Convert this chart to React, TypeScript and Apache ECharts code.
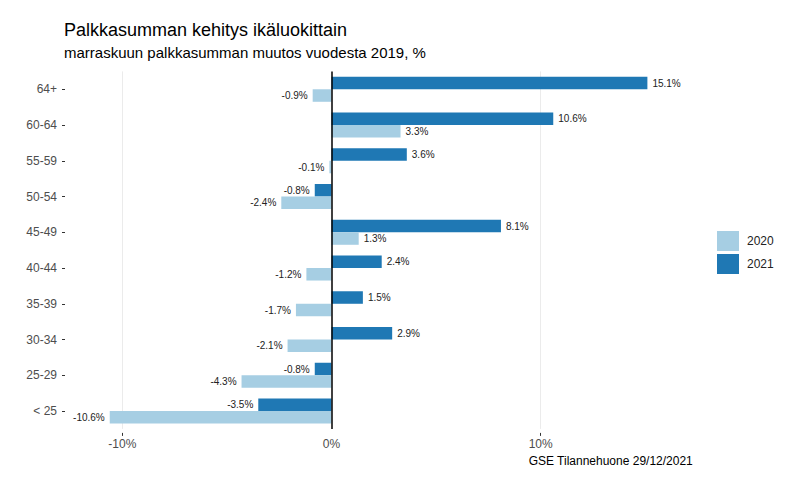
import React, { useEffect, useRef } from "react";
import * as echarts from "echarts";

const categories = ["< 25", "25-29", "30-34", "35-39", "40-44", "45-49", "50-54", "55-59", "60-64", "64+"];
const values2020 = [-10.6, -4.3, -2.1, -1.7, -1.2, 1.3, -2.4, -0.1, 3.3, -0.9];
const values2021 = [-3.5, -0.8, 2.9, 1.5, 2.4, 8.1, -0.8, 3.6, 10.6, 15.1];
const seriesNames = ["2020", "2021"];
const xLabelValues = [-10, 0, 10];
const xTickValues = [-10, 10];

const FONT = "'Liberation Sans', Arial, sans-serif";

function toItems(vals: number[]) {
  return vals.map((v) => ({ value: v, label: { position: v < 0 ? "left" : "right" } }));
}

export default function App() {
  const ref = useRef<HTMLDivElement>(null);
  useEffect(() => {
    document.body.style.margin = "0";
    if (!ref.current) return;
    const chart = echarts.init(ref.current, undefined, { renderer: "svg" });
    const labelCfg = {
      show: true,
      distance: 5,
      fontSize: 10,
      color: "#222",
      fontFamily: FONT,
      formatter: (p: any) => Number(p.value).toFixed(1) + "%",
    };
    chart.setOption({
      animation: false,
      textStyle: { fontFamily: FONT },
      title: [
        {
          text: "Palkkasumman kehitys ikäluokittain",
          left: 64,
          top: 21,
          padding: 0,
          textStyle: { fontSize: 18, fontWeight: "normal", color: "#000", fontFamily: FONT },
        },
        {
          text: "marraskuun palkkasumman muutos vuodesta 2019, %",
          left: 64,
          top: 45,
          padding: 0,
          textStyle: { fontSize: 15, fontWeight: "normal", color: "#000", fontFamily: FONT },
        },
        {
          text: "GSE Tilannehuone 29/12/2021",
          right: 107,
          top: 455,
          padding: 0,
          textStyle: { fontSize: 12, fontWeight: "normal", color: "#000", fontFamily: FONT },
        },
      ],
      legend: {
        data: seriesNames,
        orient: "vertical",
        left: 717,
        top: 231,
        padding: 0,
        itemWidth: 22,
        itemHeight: 20,
        itemGap: 3,
        icon: "rect",
        textStyle: { fontSize: 12, color: "#222", fontFamily: FONT, padding: [0, 0, 0, 3] },
      },
      grid: { left: 65, right: 107, top: 71.4, bottom: 61.1, containLabel: false },
      xAxis: {
        type: "value",
        min: -12.739,
        max: 17.28,
        offset: 4,
        axisLine: { show: true, onZero: false, lineStyle: { color: "#333", opacity: 0 } },
        axisTick: { show: true, customValues: xTickValues, length: 3, lineStyle: { color: "#333", opacity: 1 } },
        axisLabel: {
          customValues: xLabelValues,
          formatter: (v: number) => v + "%",
          color: "#4d4d4d",
          fontSize: 12,
          margin: 5,
        },
        splitLine: { show: true, lineStyle: { color: "#ebebeb", width: 1 } },
      },
      yAxis: {
        type: "category",
        data: categories,
        axisLine: { show: true, onZero: false, lineStyle: { color: "#333", opacity: 0 } },
        axisTick: { show: true, alignWithLabel: true, length: 3, lineStyle: { color: "#333", opacity: 1 } },
        axisLabel: { color: "#4d4d4d", fontSize: 12, margin: 8 },
        splitLine: { show: false },
      },
      series: [
        {
          name: seriesNames[1],
          type: "bar",
          data: toItems(values2021),
          barGap: "0%",
          barCategoryGap: "30%",
          itemStyle: { color: "#1f78b4" },
          label: labelCfg,
          markLine: {
            silent: true,
            symbol: ["none", "none"],
            label: { show: false },
            lineStyle: { color: "#000", width: 1.5, type: "solid" },
            data: [{ xAxis: 0 }],
          },
        },
        {
          name: seriesNames[0],
          type: "bar",
          data: toItems(values2020),
          barGap: "0%",
          barCategoryGap: "30%",
          itemStyle: { color: "#a6cee3" },
          label: labelCfg,
        },
      ],
    });
    return () => chart.dispose();
  }, []);
  return <div ref={ref} style={{ width: 800, height: 490 }} />;
}
